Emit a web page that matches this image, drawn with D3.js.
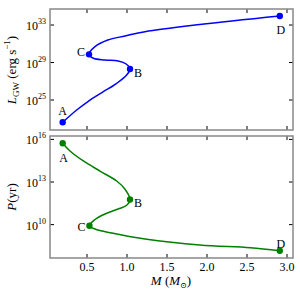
<!DOCTYPE html>
<html>
<head>
<meta charset="utf-8">
<script src="https://d3js.org/d3.v7.min.js"></script>
<style>
  body, html { margin: 0; padding: 0; background: #fff; }
  svg { display: block; font-family: "Liberation Serif", "DejaVu Serif", serif; }
  .tick-lbl { font-size: 12px; fill: #000; }
  .pt-lbl { font-size: 12px; fill: #000; }
</style>
</head>
<body>
<svg width="300" height="300"></svg>
<script>
// mass along the track (solar masses)
const massTop = [0.196, 0.371, 0.5375, 0.704, 0.871, 0.996, 1.0375, 0.99, 0.89, 0.725, 0.58, 0.525, 0.60, 0.76, 0.975, 1.225, 1.91, 2.91];
// log10 of GW luminosity (erg/s)
const logLgw = [22.62, 23.93, 25.0, 25.89, 26.78, 27.67, 28.31, 28.84, 29.16, 29.27, 29.45, 29.87, 30.69, 31.4, 31.83, 32.29, 33.05, 33.96];

const massBot = [0.196, 0.2875, 0.454, 0.6625, 0.871, 0.975, 1.0375, 1.0, 0.89, 0.725, 0.60, 0.53, 0.60, 0.81, 1.225, 1.91, 2.54, 2.91];
// log10 of period (yr)
const logP = [15.73, 15.18, 14.48, 13.77, 13.07, 12.49, 11.77, 11.38, 11.1, 10.75, 10.36, 9.92, 9.69, 9.41, 8.99, 8.56, 8.37, 8.16];

// labelled points: index into the arrays above
const keyNames = ["A", "B", "C", "D"];
const keyTop = [0, 6, 11, 17];
const keyBot = [0, 6, 11, 17];

const xTicks = [0.5, 1.0, 1.5, 2.0, 2.5, 3.0];
const topTicks = [25, 29, 33];
const botTicks = [10, 13, 16];

const svg = d3.select("svg");
const left = 50, right = 293;

const x = d3.scaleLinear().domain([0.0375, 3.075]).range([left, right]);

const panels = [
  { top: 9, bottom: 130, domain: [21.8, 34.71], ticks: topTicks, xs: massTop, ys: logLgw,
    keys: keyTop, color: "#0000ff",
    lblOff: { A: [0, -11], B: [8, 4], C: [-8, -2], D: [1, 14] } },
  { top: 136, bottom: 258, domain: [7.65, 16.24], ticks: botTicks, xs: massBot, ys: logP,
    keys: keyBot, color: "#008000",
    lblOff: { A: [1, 15], B: [8, 4], C: [-8, 1], D: [1, -7] } }
];

panels.forEach(p => {
  const y = d3.scaleLinear().domain(p.domain).range([p.bottom, p.top]);
  const g = svg.append("g");

  // inward ticks on all four sides
  const tl = 4;
  xTicks.forEach(t => {
    g.append("line").attr("x1", x(t)).attr("x2", x(t)).attr("y1", p.bottom).attr("y2", p.bottom - tl).attr("stroke", "#000");
    g.append("line").attr("x1", x(t)).attr("x2", x(t)).attr("y1", p.top).attr("y2", p.top + tl).attr("stroke", "#000");
  });
  p.ticks.forEach(t => {
    g.append("line").attr("x1", left).attr("x2", left + tl).attr("y1", y(t)).attr("y2", y(t)).attr("stroke", "#000");
    g.append("line").attr("x1", right).attr("x2", right - tl).attr("y1", y(t)).attr("y2", y(t)).attr("stroke", "#000");
    const txt = g.append("text").attr("class", "tick-lbl")
      .attr("x", left - 4).attr("y", y(t) + 5).attr("text-anchor", "end");
    txt.append("tspan").text("10");
    txt.append("tspan").attr("dy", -6).attr("font-size", 8).text(t);
  });

  // frame
  g.append("rect").attr("x", left).attr("y", p.top)
    .attr("width", right - left).attr("height", p.bottom - p.top)
    .attr("fill", "none").attr("stroke", "#888").attr("stroke-width", 1.5);

  const pts = p.xs.map((m, i) => [m, p.ys[i]]);
  const line = d3.line().x(d => x(d[0])).y(d => y(d[1])).curve(d3.curveCatmullRom.alpha(0.5));
  g.append("path").attr("d", line(pts)).attr("fill", "none")
    .attr("stroke", p.color).attr("stroke-width", 1.5);

  p.keys.forEach((k, j) => {
    const cx = x(p.xs[k]), cy = y(p.ys[k]);
    g.append("circle").attr("cx", cx).attr("cy", cy).attr("r", 3.2).attr("fill", p.color);
    const off = p.lblOff[keyNames[j]];
    g.append("text").attr("class", "pt-lbl").attr("text-anchor", "middle")
      .attr("x", cx + off[0]).attr("y", cy + off[1] + 4).text(keyNames[j]);
  });
});

// x tick labels
xTicks.forEach(t => {
  svg.append("text").attr("class", "tick-lbl").attr("x", x(t)).attr("y", 271)
    .attr("text-anchor", "middle").text(t.toFixed(1));
});

// x axis title
const xt = svg.append("text").attr("x", 171).attr("y", 285).attr("text-anchor", "middle").attr("font-size", 13);
xt.append("tspan").attr("font-style", "italic").text("M");
xt.append("tspan").text(" (");
xt.append("tspan").attr("font-style", "italic").text("M");
xt.append("tspan").attr("font-size", 8).attr("dy", 3).text("\u2299");
xt.append("tspan").attr("dy", -3).text(")");

// y axis titles
const yt1 = svg.append("text").attr("transform", "translate(16,70) rotate(-90)")
  .attr("text-anchor", "middle").attr("font-size", 13);
yt1.append("tspan").attr("font-style", "italic").text("L");
yt1.append("tspan").attr("font-size", 9).attr("dy", 3).text("GW");
yt1.append("tspan").attr("dy", -3).text(" (erg s");
yt1.append("tspan").attr("font-size", 9).attr("dy", -6).text("\u22121");
yt1.append("tspan").attr("dy", 6).text(")");

const yt2 = svg.append("text").attr("transform", "translate(16,197) rotate(-90)")
  .attr("text-anchor", "middle").attr("font-size", 13);
yt2.append("tspan").attr("font-style", "italic").text("P");
yt2.append("tspan").text("(yr)");
</script>
</body>
</html>
